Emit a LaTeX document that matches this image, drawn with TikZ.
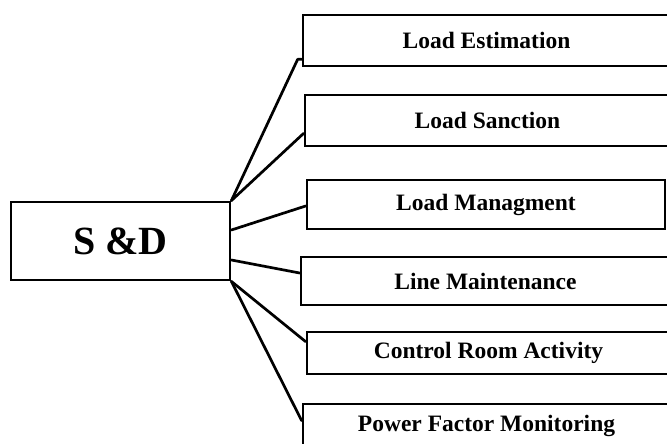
\documentclass[tikz,border=0pt]{standalone}
\usepackage{fontspec}
\setmainfont{Liberation Serif}
\usetikzlibrary{calc}
\tikzset{
  sdbox/.style={draw=black, line width=2.8pt, fill=white, inner sep=0pt,
    font=\bfseries\fontsize{40}{44}\selectfont},
  taskbox/.style={draw=black, line width=2.7pt, fill=white, inner sep=0pt,
    font=\bfseries\fontsize{23.5}{26}\selectfont},
  link/.style={draw=black, line width=2.7pt, line cap=round, line join=round}
}
\begin{document}
\begin{tikzpicture}[x=1pt, y=-1pt]
  \useasboundingbox (0,0) rectangle (667,444);
  \clip (0,0) rectangle (667,444);

  % central block
  \node[sdbox, minimum width=219pt, minimum height=78pt] (sd) at (120.5,241) {S \&D};

  % activity blocks
  \node[taskbox, minimum width=367pt, minimum height=51pt] (b1) at (486.5,40.5) {Load Estimation};
  \node[taskbox, minimum width=365pt, minimum height=51pt] (b2) at (487.5,120.5) {Load Sanction};
  \node[taskbox, minimum width=358pt, minimum height=49pt] (b3) at (486,204.5) {Load Managment};
  \node[taskbox, minimum width=369pt, minimum height=48pt] (b4) at (485.5,281) {Line Maintenance};
  \node[taskbox, minimum width=363pt, minimum height=42pt] (b5) at (488.5,353) {Control Room Activity};
  \node[taskbox, minimum width=367pt, minimum height=44pt] (b6) at (486.5,426) {Power Factor Monitoring};

  % branch points on the central block
  \coordinate (s1) at (sd.north east);
  \coordinate (s3) at ($(sd.east)+(0,-11)$);
  \coordinate (s4) at ($(sd.east)+(0,19)$);
  \coordinate (s5) at (sd.south east);

  % connectors
  \draw[link] (s1) -- ($(b1.south west)+(-4,-8)$) -- ($(b1.south west)+(0,-8)$);
  \draw[link] (s1) -- ($(b2.south west)+(0,-14)$);
  \draw[link] (s3) -- ($(b3.west)+(0,1.5)$);
  \draw[link] (s4) -- ($(b4.west)+(0,-8)$);
  \draw[link] (s5) -- ($(b5.north west)+(0,11)$);
  \draw[link] (s5) -- ($(b6.north west)+(0,18)$);
\end{tikzpicture}
\end{document}
